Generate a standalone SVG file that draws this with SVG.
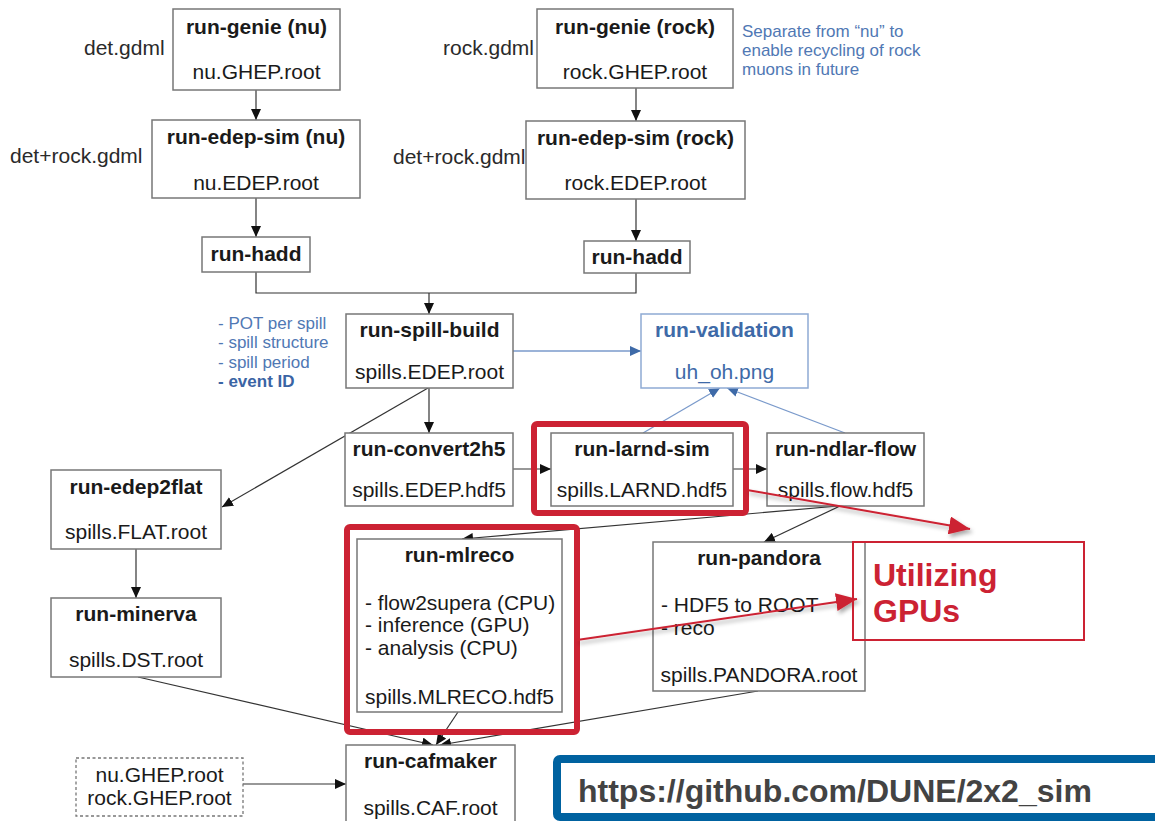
<svg xmlns="http://www.w3.org/2000/svg" width="1155" height="821" viewBox="0 0 1155 821">
<defs>
<style>
text{font-family:"Liberation Sans",Arial,sans-serif;fill:#1a1a1a}
.box{fill:#fff;stroke:#777;stroke-width:1.5}
.t{font-size:21px;font-weight:bold;text-anchor:middle}
.b{font-size:21px;text-anchor:middle}
.l{font-size:21px}
.side{font-size:21px;fill:#2a2a2a}
.note{font-size:17px;fill:#5078b4}
.vbox{fill:#fff;stroke:#8eaad4;stroke-width:1.5}
.vt{font-size:21px;font-weight:bold;text-anchor:middle;fill:#3e6aa8}
.vb{font-size:21px;text-anchor:middle;fill:#3e6aa8}
.e{fill:none;stroke:#333;stroke-width:1.2}
.ev{fill:none;stroke:#7a9acb;stroke-width:1.3}
.hl{fill:none;stroke:#cc2233;stroke-width:6}
.red{fill:none;stroke:#cc2233;stroke-width:2}
</style>
<marker id="ah" markerUnits="userSpaceOnUse" markerWidth="12" markerHeight="10" refX="11" refY="5" orient="auto"><path d="M0,0 L11,5 L0,10 Z" fill="#111"/></marker>
<marker id="av" markerUnits="userSpaceOnUse" markerWidth="12" markerHeight="10" refX="11" refY="5" orient="auto"><path d="M0,0 L11,5 L0,10 Z" fill="#3e6aa8"/></marker>
<marker id="ar" markerUnits="userSpaceOnUse" markerWidth="22" markerHeight="18" refX="21" refY="9" orient="auto"><path d="M0,0 L21,9 L0,18 Z" fill="#cc2233"/></marker>
<filter id="sh" x="-10%" y="-50%" width="120%" height="200%"><feDropShadow dx="2" dy="3" stdDeviation="2" flood-color="#000" flood-opacity="0.35"/></filter>
</defs>
<rect width="1155" height="821" fill="#fff"/>

<g id="side-labels">
<text class="side" x="84" y="55">det.gdml</text>
<text class="side" x="10" y="163">det+rock.gdml</text>
<text class="side" x="443" y="55">rock.gdml</text>
<text class="side" x="393" y="164">det+rock.gdml</text>
<text class="note" x="742" y="37">Separate from “nu” to</text>
<text class="note" x="742" y="56">enable recycling of rock</text>
<text class="note" x="742" y="75">muons in future</text>
<text class="note" x="218" y="329">- POT per spill</text>
<text class="note" x="218" y="348">- spill structure</text>
<text class="note" x="218" y="368">- spill period</text>
<text class="note" x="218" y="387" style="font-weight:bold;fill:#3a64a4">- event ID</text>
</g>

<g id="connectors">
<path class="e" d="M256,90 V120" marker-end="url(#ah)"/>
<path class="e" d="M256,198 V237" marker-end="url(#ah)"/>
<path class="e" d="M636,88 V121" marker-end="url(#ah)"/>
<path class="e" d="M636,199 V241" marker-end="url(#ah)"/>
<path class="e" d="M256,272 V293 H636 V273"/>
<path class="e" d="M429,293 V314" marker-end="url(#ah)"/>
<path class="ev" d="M513,351 H641" marker-end="url(#av)"/>
<path class="e" d="M429,388 V433" marker-end="url(#ah)"/>
<path class="e" d="M428,388 L222,507" marker-end="url(#ah)"/>
<path class="e" d="M513,469 H551" marker-end="url(#ah)"/>
<path class="e" d="M733,469 H767" marker-end="url(#ah)"/>
<path class="ev" d="M643,433 L720,388" marker-end="url(#av)"/>
<path class="ev" d="M845,433 L727,388" marker-end="url(#av)"/>
<path class="e" d="M838,506 L462,539" marker-end="url(#ah)"/>
<path class="e" d="M840,506 L764,542" marker-end="url(#ah)"/>
<path class="e" d="M136,549 V598" marker-end="url(#ah)"/>
<path class="e" d="M138,677 L433,745" marker-end="url(#ah)"/>
<path class="e" d="M458,712 L436,745" marker-end="url(#ah)"/>
<path class="e" d="M758,691 L440,745" marker-end="url(#ah)"/>
<path class="e" d="M243,784 H346" marker-end="url(#ah)"/>
</g>

<g id="genie-nu"><rect class="box" x="173" y="9" width="167" height="81"/><text class="t" x="256.5" y="34">run-genie (nu)</text><text class="b" x="256.5" y="79">nu.GHEP.root</text></g>
<g id="genie-rock"><rect class="box" x="537" y="9" width="196" height="79"/><text class="t" x="635" y="34">run-genie (rock)</text><text class="b" x="635" y="79">rock.GHEP.root</text></g>
<g id="edep-nu"><rect class="box" x="152" y="120" width="208" height="78"/><text class="t" x="256" y="144">run-edep-sim (nu)</text><text class="b" x="256" y="190">nu.EDEP.root</text></g>
<g id="edep-rock"><rect class="box" x="526" y="121" width="219" height="78"/><text class="t" x="635.5" y="145">run-edep-sim (rock)</text><text class="b" x="635.5" y="190">rock.EDEP.root</text></g>
<g id="hadd-nu"><rect class="box" x="202" y="237" width="108" height="35"/><text class="t" x="256" y="261">run-hadd</text></g>
<g id="hadd-rock"><rect class="box" x="584" y="241" width="106" height="32"/><text class="t" x="637" y="264">run-hadd</text></g>
<g id="spill-build"><rect class="box" x="346" y="314" width="167" height="74"/><text class="t" x="429.5" y="337">run-spill-build</text><text class="b" x="429.5" y="379">spills.EDEP.root</text></g>
<g id="validation"><rect class="vbox" x="641" y="314" width="167" height="74"/><text class="vt" x="724.5" y="337">run-validation</text><text class="vb" x="724.5" y="379">uh_oh.png</text></g>
<g id="convert2h5"><rect class="box" x="345" y="433" width="168" height="73"/><text class="t" x="429" y="456">run-convert2h5</text><text class="b" x="429" y="497">spills.EDEP.hdf5</text></g>
<g id="larnd-sim"><rect class="box" x="551" y="433" width="182" height="73"/><text class="t" x="642" y="456">run-larnd-sim</text><text class="b" x="642" y="497">spills.LARND.hdf5</text><rect class="hl" x="534" y="424" width="212" height="89" rx="3"/></g>
<g id="ndlar-flow"><rect class="box" x="767" y="433" width="157" height="73"/><text class="t" x="845.5" y="456">run-ndlar-flow</text><text class="b" x="845.5" y="497">spills.flow.hdf5</text></g>
<g id="edep2flat"><rect class="box" x="51" y="470" width="170" height="79"/><text class="t" x="136" y="494">run-edep2flat</text><text class="b" x="136" y="539">spills.FLAT.root</text></g>
<g id="minerva"><rect class="box" x="51" y="598" width="170" height="79"/><text class="t" x="136" y="621">run-minerva</text><text class="b" x="136" y="667">spills.DST.root</text></g>
<g id="mlreco"><rect class="box" x="357" y="539" width="205" height="173"/><text class="t" x="459.5" y="562">run-mlreco</text><text class="l" x="365" y="610">- flow2supera (CPU)</text><text class="l" x="365" y="632">- inference (GPU)</text><text class="l" x="365" y="655">- analysis (CPU)</text><text class="b" x="459.5" y="704">spills.MLRECO.hdf5</text><rect class="hl" x="347" y="527" width="230" height="205" rx="3"/></g>
<g id="pandora"><rect class="box" x="653" y="542" width="212" height="149"/><text class="t" x="759" y="565">run-pandora</text><text class="l" x="661" y="612">- HDF5 to ROOT</text><text class="l" x="661" y="635">- reco</text><text class="b" x="759" y="682">spills.PANDORA.root</text></g>
<g id="cafmaker"><rect class="box" x="346" y="745" width="169" height="90"/><text class="t" x="430.5" y="768">run-cafmaker</text><text class="b" x="430.5" y="815">spills.CAF.root</text></g>
<g id="ghep-inputs"><rect x="76" y="758" width="167" height="58" fill="#fff" stroke="#777" stroke-width="1.3" stroke-dasharray="3,2.5"/><text class="b" x="159.5" y="782">nu.GHEP.root</text><text class="b" x="159.5" y="805">rock.GHEP.root</text></g>

<g id="gpu-callout">
<path d="M747,490 L970,529" fill="none" stroke="#cc2233" stroke-width="2" marker-end="url(#ar)" filter="url(#sh)"/>
<path d="M577,640 L857,599" fill="none" stroke="#cc2233" stroke-width="2" marker-end="url(#ar)" filter="url(#sh)"/>
<rect class="red" x="853" y="542" width="231" height="98"/>
<text x="873" y="586" style="font-size:32px;font-weight:bold;fill:#cc2233">Utilizing</text>
<text x="873" y="622" style="font-size:32px;font-weight:bold;fill:#cc2233">GPUs</text>
</g>

<g id="github">
<rect x="557" y="759" width="610" height="58" rx="3" fill="#fff" stroke="#0062a0" stroke-width="8"/>
<text x="578" y="802" style="font-size:32px;font-weight:bold;fill:#434343">https://github.com/DUNE/2x2_sim</text>
</g>
</svg>
